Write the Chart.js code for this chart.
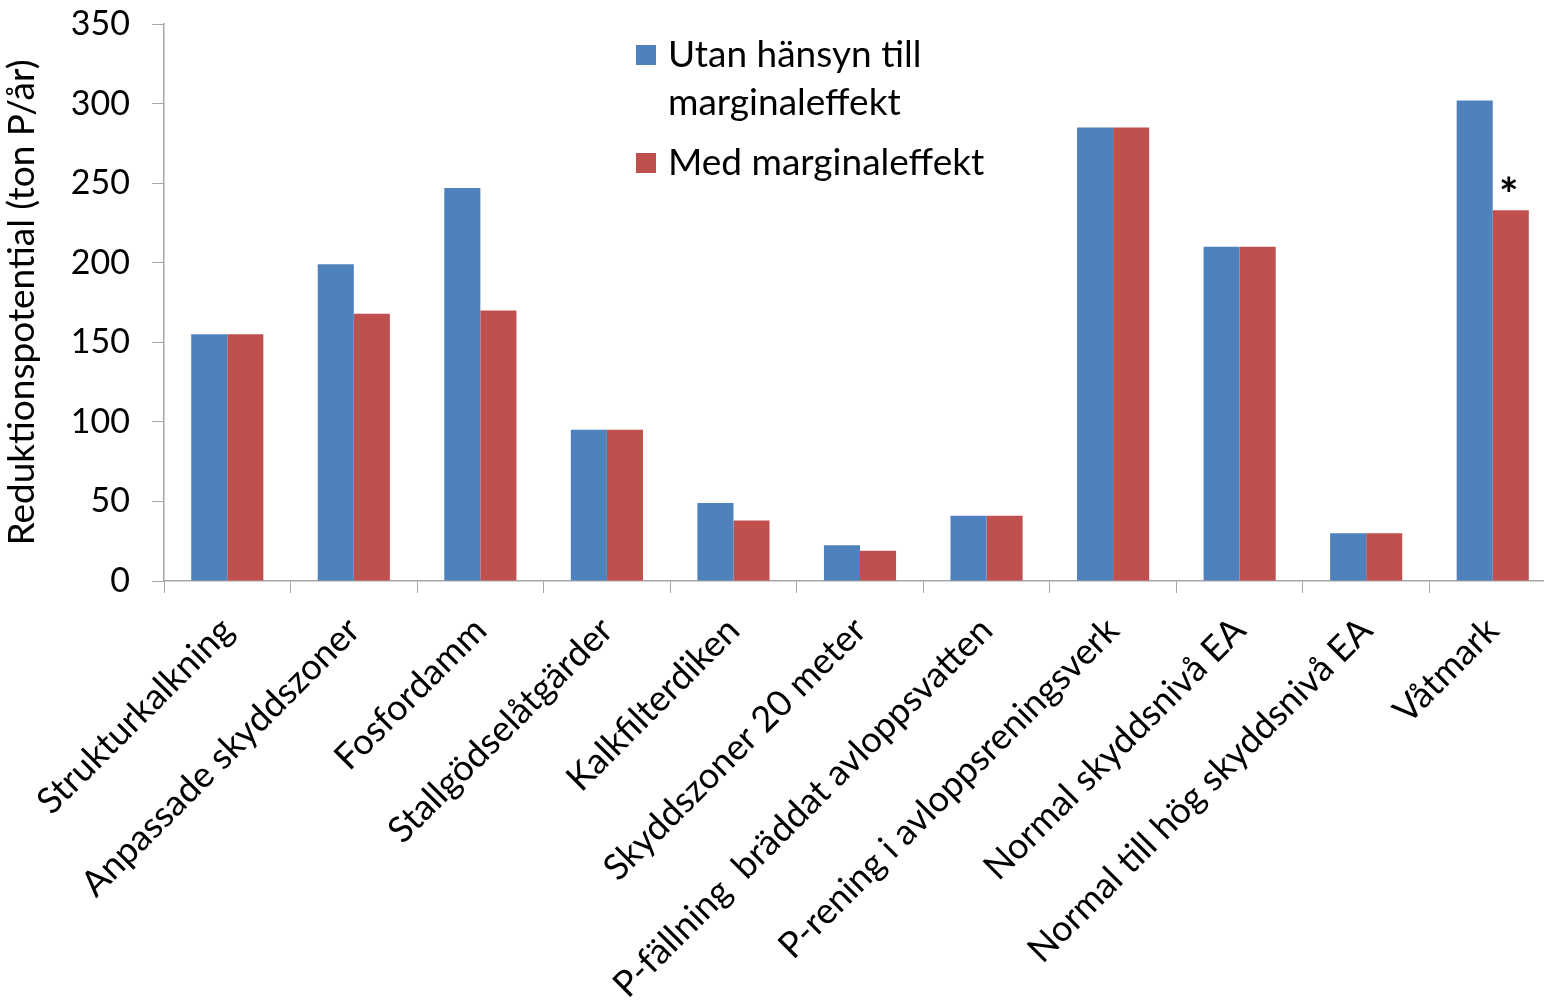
<!DOCTYPE html>
<html>
<head>
<meta charset="utf-8">
<script src="https://cdn.jsdelivr.net/npm/chart.js@4.4.0/dist/chart.umd.min.js"></script>
<style>
html,body{margin:0;padding:0;background:#fff;overflow:hidden;}
#wrap{position:relative;width:1560px;height:1003px;}
</style>
</head>
<body>
<div id="wrap"><canvas id="c" width="1560" height="1003"></canvas></div>
<script>
const categories = ["Strukturkalkning","Anpassade skyddszoner","Fosfordamm","Stallgödselåtgärder","Kalkfilterdiken","Skyddszoner 20 meter","P-fällning  bräddat avloppsvatten","P-rening i avloppsreningsverk","Normal skyddsnivå EA","Normal till hög skyddsnivå EA","Våtmark"];
const utanMarginal = [155, 199, 247, 95, 49, 22.5, 41, 285, 210, 30, 302];
const medMarginal = [155, 168, 170, 95, 38, 19, 41, 285, 210, 30, 233];
const seriesNames = [["Utan hänsyn till","marginaleffekt"], ["Med marginaleffekt"]];
const yTitle = "Reduktionspotential (ton P/år)";
const starIndex = 10;

const FONT = "Lato";
const BLUE = "#4F81BD", RED = "#C0504D", AXIS = "#A6A6A6";

const overlay = {
  id: 'overlay',
  afterDatasetsDraw(chart) {
    const ctx = chart.ctx, ca = chart.chartArea;
    ctx.save();
    // legend
    const lx = ca.left + 472;
    ctx.font = "37px " + FONT;
    ctx.textBaseline = "middle";
    ctx.textAlign = "left";
    ctx.fillStyle = BLUE; ctx.fillRect(lx, 45, 20, 20);
    ctx.fillStyle = "#000";
    ctx.fillText(seriesNames[0][0], lx + 32, 55);
    ctx.fillText(seriesNames[0][1], lx + 32, 103);
    ctx.fillStyle = RED; ctx.fillRect(lx, 153, 20, 20);
    ctx.fillStyle = "#000";
    ctx.fillText(seriesNames[1][0], lx + 32, 163);
    // asterisk
    const bar = chart.getDatasetMeta(1).data[starIndex];
    ctx.font = "bold 46px " + FONT;
    ctx.textAlign = "center";
    ctx.textBaseline = "alphabetic";
    ctx.fillText("*", bar.x - 2, bar.y + 1);
    ctx.restore();
  }
};

new Chart(document.getElementById('c'), {
  type: 'bar',
  data: {
    labels: categories,
    datasets: [
      {label: seriesNames[0].join(' '), data: utanMarginal, backgroundColor: BLUE, barPercentage: 1, categoryPercentage: 0.57},
      {label: seriesNames[1][0], data: medMarginal, backgroundColor: RED, barPercentage: 1, categoryPercentage: 0.57}
    ]
  },
  options: {
    responsive: false,
    animation: false,
    layout: {padding: {top: 24, right: 4, left: 0, bottom: 0}},
    plugins: {legend: {display: false}, tooltip: {enabled: false}},
    scales: {
      x: {
        grid: {display: true, drawOnChartArea: false, drawTicks: true, tickLength: 12, color: AXIS, lineWidth: 1},
        border: {display: true, color: AXIS, width: 1.5},
        ticks: {color: "#000", font: {family: FONT, size: 36}, maxRotation: 45, minRotation: 45, padding: 16, autoSkip: false},
        afterFit(s) { s.height = 422; s.paddingLeft = 0; s.paddingRight = 0; }
      },
      y: {
        min: 0, max: 350,
        grid: {display: true, drawOnChartArea: false, drawTicks: true, tickLength: 12, color: AXIS, lineWidth: 1},
        border: {display: true, color: AXIS, width: 1.5},
        ticks: {stepSize: 50, color: "#000", font: {family: FONT, size: 34}, padding: 22},
        title: {display: true, text: yTitle, color: "#000", font: {family: FONT, size: 37}, padding: {top: 0, bottom: 10}},
        afterFit(s) { s.width = 164; s.paddingTop = 0; s.paddingBottom = 0; }
      }
    }
  },
  plugins: [overlay]
});
</script>
</body>
</html>
